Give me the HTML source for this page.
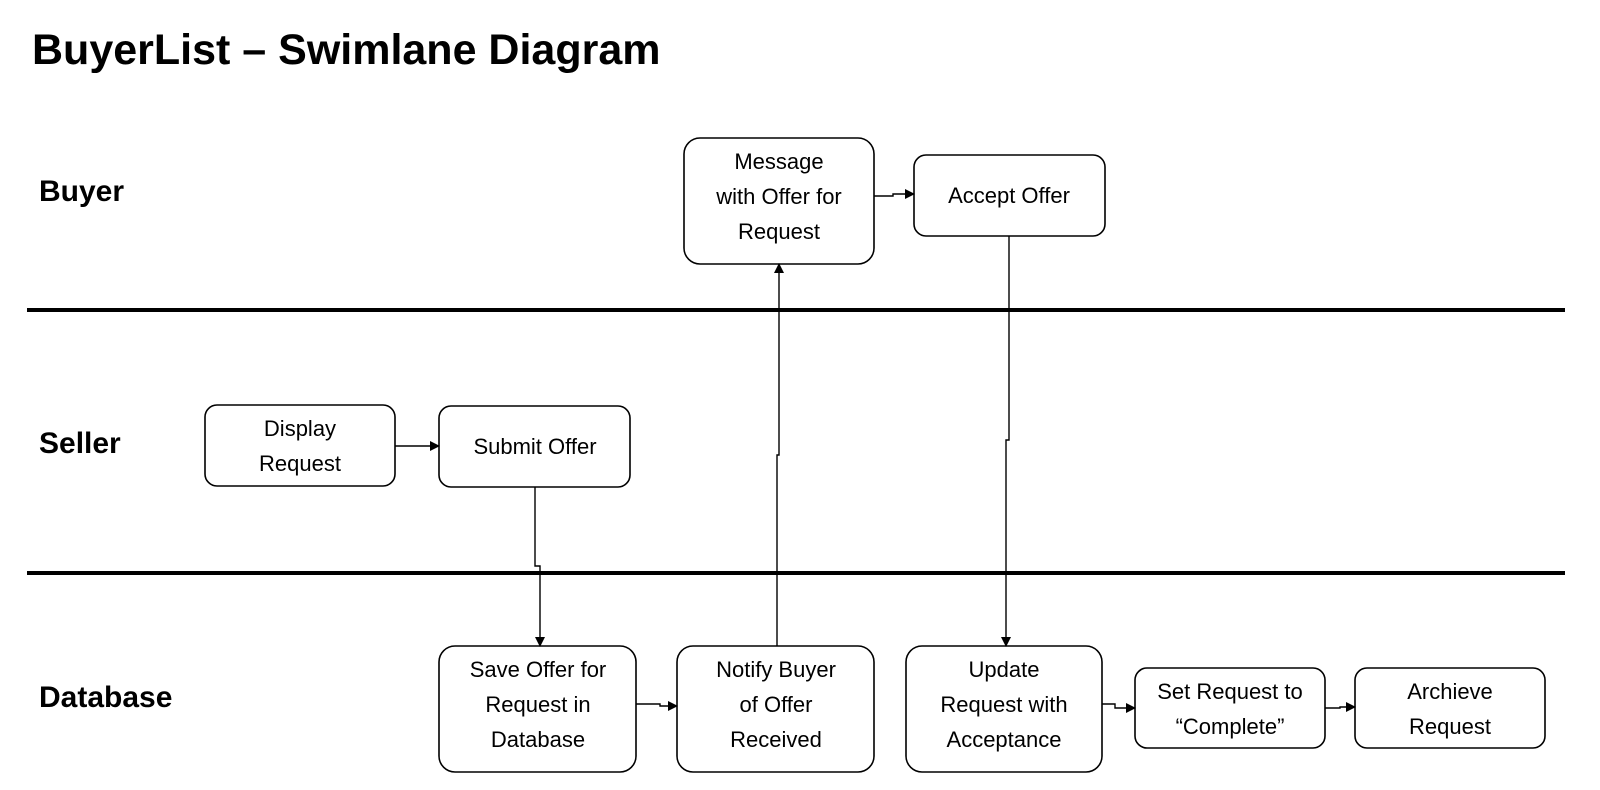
<!DOCTYPE html>
<html><head><meta charset="utf-8"><style>
html,body{margin:0;padding:0;background:#fff;overflow:hidden;}
svg{display:block;}
text{font-family:"Liberation Sans",sans-serif;fill:#000;}
.b{font-size:22px;text-anchor:middle;}
.l{font-size:30px;font-weight:bold;}
</style></head><body>
<svg width="1600" height="790" viewBox="0 0 1600 790" xmlns="http://www.w3.org/2000/svg">
<defs><marker id="a" markerWidth="10" markerHeight="10" refX="9" refY="5" orient="auto" markerUnits="userSpaceOnUse"><path d="M0,0 L10,5 L0,10 z" fill="#000"/></marker></defs>
<text x="32" y="64" style="font-size:43px;font-weight:bold;">BuyerList – Swimlane Diagram</text>
<text class="l" x="39" y="201">Buyer</text>
<text class="l" x="39" y="453">Seller</text>
<text class="l" x="39" y="707">Database</text>
<line x1="27" y1="310" x2="1565" y2="310" stroke="#000" stroke-width="4"/>
<line x1="27" y1="573" x2="1565" y2="573" stroke="#000" stroke-width="4"/>
<g fill="#fff" stroke="#000" stroke-width="1.6">
<rect x="684" y="138" width="190" height="126" rx="16"/>
<rect x="914" y="155" width="191" height="81" rx="12"/>
<rect x="205" y="405" width="190" height="81" rx="12"/>
<rect x="439" y="406" width="191" height="81" rx="12"/>
<rect x="439" y="646" width="197" height="126" rx="16"/>
<rect x="677" y="646" width="197" height="126" rx="16"/>
<rect x="906" y="646" width="196" height="126" rx="16"/>
<rect x="1135" y="668" width="190" height="80" rx="12"/>
<rect x="1355" y="668" width="190" height="80" rx="12"/>
</g>
<g fill="none" stroke="#000" stroke-width="1.4">
<path d="M395,446 H439" marker-end="url(#a)"/>
<path d="M535,487 V566 H540 V646" marker-end="url(#a)"/>
<path d="M636,704 H660 V706 H677" marker-end="url(#a)"/>
<path d="M777,646 V455 H779 V264" marker-end="url(#a)"/>
<path d="M874,196 H893 V194 H914" marker-end="url(#a)"/>
<path d="M1009,236 V440 H1006 V646" marker-end="url(#a)"/>
<path d="M1102,704 H1115 V708 H1135" marker-end="url(#a)"/>
<path d="M1325,708 H1340 V707 H1355" marker-end="url(#a)"/>
</g>
<text class="b" x="779" y="169">Message</text>
<text class="b" x="779" y="204">with Offer for</text>
<text class="b" x="779" y="239">Request</text>
<text class="b" x="1009" y="203">Accept Offer</text>
<text class="b" x="300" y="436">Display</text>
<text class="b" x="300" y="471">Request</text>
<text class="b" x="535" y="454">Submit Offer</text>
<text class="b" x="538" y="677">Save Offer for</text>
<text class="b" x="538" y="712">Request in</text>
<text class="b" x="538" y="747">Database</text>
<text class="b" x="776" y="677">Notify Buyer</text>
<text class="b" x="776" y="712">of Offer</text>
<text class="b" x="776" y="747">Received</text>
<text class="b" x="1004" y="677">Update</text>
<text class="b" x="1004" y="712">Request with</text>
<text class="b" x="1004" y="747">Acceptance</text>
<text class="b" x="1230" y="699">Set Request to</text>
<text class="b" x="1230" y="734">“Complete”</text>
<text class="b" x="1450" y="699">Archieve</text>
<text class="b" x="1450" y="734">Request</text>
</svg>
</body></html>
